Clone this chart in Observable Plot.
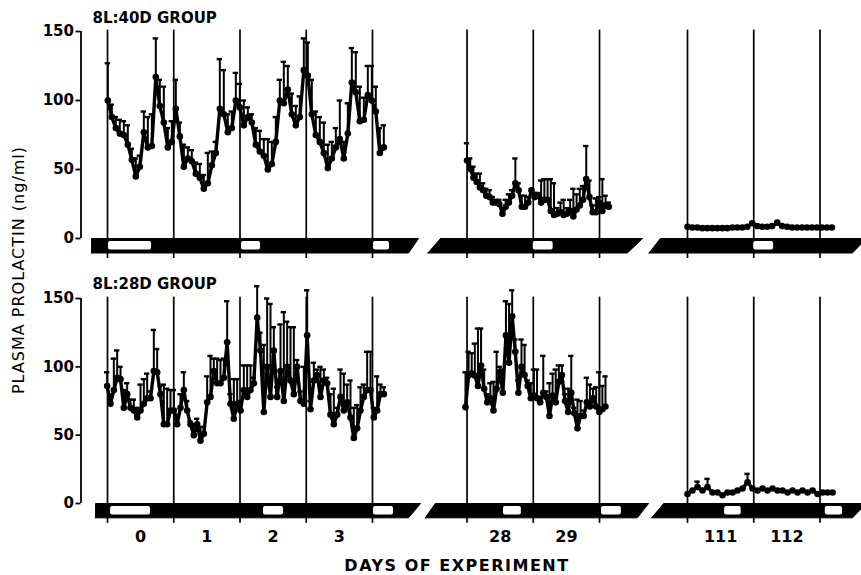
<!DOCTYPE html>
<html><head><meta charset="utf-8">
<script src="https://cdn.jsdelivr.net/npm/d3@7"></script>
<script src="https://cdn.jsdelivr.net/npm/@observablehq/plot@0.6"></script>
<style>
body{margin:0;background:#fff;}
#wrap{position:relative;width:861px;height:575px;font-family:"DejaVu Sans",sans-serif;color:#000;overflow:hidden;}
#top{position:absolute;left:0;top:0;}
#bottom{position:absolute;left:0;top:265px;}
.ylab{position:absolute;left:18px;top:270px;transform:translate(-50%,-50%) rotate(-90deg);white-space:nowrap;font-size:16px;letter-spacing:1px;}
.xlab{position:absolute;left:457px;top:565px;transform:translate(-50%,-50%);white-space:nowrap;font-size:16px;font-weight:bold;letter-spacing:1.5px;}
</style></head><body>
<div id="wrap"><div id="top"></div><div id="bottom"></div>
<div class="ylab">PLASMA PROLACTIN (ng/ml)</div>
<div class="xlab">DAYS OF EXPERIMENT</div></div>
<script>
// ---------- data ----------
const groupLabels = ["8L:40D GROUP", "8L:28D GROUP"];
const dayTicks = [0, 1, 2, 3, 28, 29, 111, 112];
const dayBoundaries = [-0.5, 0.5, 1.5, 2.5, 3.5, 27.5, 28.5, 29.5, 110.5, 111.5, 112.5];
const yTicks = [0, 50, 100, 150];

// sampling spans (days) of each segment
const span40 = [[-0.495, 3.671], [27.5, 29.64], [110.5, 112.68]];
const span28 = [[-0.505, 3.671], [27.477, 29.59], [110.5, 112.69]];

// 8L:40D group: mean and mean+SEM
const prl40a = [100,88,80,76,75,68,57,45,52,77,66,67,117,96,84,66,70,94,74,52,58,56,47,44,36,40,53,62,94,90,77,80,100,95,82,88,84,68,63,60,50,54,70,100,98,108,90,82,88,122,118,90,75,70,62,51,58,66,72,58,76,113,106,85,86,104,100,92,62,66];
const tip40a = [127,97,88,86,85,82,65,58,60,92,88,90,145,115,110,80,85,115,84,68,66,64,55,54,46,62,63,70,130,122,90,92,120,112,100,95,90,80,78,72,72,70,88,115,128,125,105,96,103,145,142,115,92,88,84,68,70,80,100,70,98,138,135,110,102,125,125,110,80,82];
const prl40b = [56.5,50.5,44,41,37,35,31,30,26,26,25,18,23,26,31,40,35,23,23,26,35,30,31,26,28,28,20,17,18,19,17,18,20,16,21,24,28,43,30,19,19,26,20,24,23];
const tip40b = [69,58,52,47,47,40,36,35,30,28,28,22,28,32,35,58,40,31,31,30,36,33,33,42,43,43,43,40,22,26,28,22,28,36,32,36,38,67,42,24,29,30,43,31,26];
const prl40c = [8.5,8,8,7.5,7.5,7.5,7.5,7.5,7.5,8,8,8,8.5,11,9,8.5,8.5,9,11.5,9,8.5,8,8,8,8,8,8,8,8,8];
const tip40c = [9,8.5,8.5,8,8,8,8,8,8,8.5,8.5,8.5,9,12,9.5,9,9,9.5,12.5,9.5,9,8.5,8.5,8.5,8.5,8.5,8.5,8.5,8.5,8.5];

// 8L:28D group: mean and mean+SEM
const prl28a = [86,73,83,92,91,70,80,70,68,63,68,73,77,77,97,96,80,58,58,68,68,58,70,83,68,58,50,58,46,51,74,78,97,88,88,92,118,73,62,73,68,83,78,83,88,136,112,67,100,78,112,78,97,75,100,90,80,100,75,73,123,69,90,94,78,90,88,65,58,65,78,68,74,63,48,55,68,78,83,83,63,68,80,80];
const tip28a = [96,80,106,112,100,83,88,76,76,70,87,91,95,82,127,113,86,87,84,83,83,65,80,96,75,60,58,62,56,56,93,108,106,106,105,106,148,80,91,91,75,101,101,101,92,159,125,116,150,146,129,85,131,140,133,129,129,105,82,100,156,75,103,98,100,98,92,80,84,70,98,95,87,90,70,72,85,87,111,111,70,93,87,85];
const prl28b = [70.5,93.6,95,93.6,86,101,84,74,77,68,84,96,81,123,103,137,111,81,100,94,86,77,79,77,74,81,78,64,79,74,89,94,75,67,81,66,55,64,64,74,71,77,71,67,69,71];
const tip28b = [96,111,110,117,128,128,98,80,88,89,111,100,98,148,146,156,120,90,120,116,90,88,98,98,78,108,82,88,95,98,101,101,80,84,108,70,76,75,68,92,87,84,85,96,86,93];
const prl28c = [7,9.5,12,9.5,12,8,8,6,8,8,9.5,11,15.6,11,9.5,11,9.5,11,9.5,9.5,8,9.5,8,9.5,8,9.5,7,8,8,8];
const tip28c = [8,10.5,16,10.5,18,9,9,7,9,9,10.5,12,21.7,12,10.5,12,10.5,12,10.5,10.5,9,10.5,9,10.5,9,10.5,8,9,9,9];

// light periods (white) within the dark bar, in days
const lights40 = [[-0.485, 0.165], [1.523, 1.81], [3.515, 3.757], [28.5, 28.8], [111.5, 111.8]];
const lights28 = [[-0.454, 0.15], [1.855, 2.157], [3.515, 3.817], [28.05, 28.32], [29.53, 29.83], [111.06, 111.31], [112.58, 112.84]];

// light/dark bar outline per segment: [bottom-left, top-left, top-right, bottom-right] in days
const bar40 = [[-0.741, -0.741, 4.195, 4.044], [26.91, 27.10, 30.15, 29.92], [109.92, 110.09, 113.2, 112.99]];
const bar28 = [[-0.68, -0.68, 4.225, 4.044], [26.87, 27.02, 30.24, 30.07], [109.96, 110.14, 113.2, 112.99]];

// ---------- broken time axis ----------
const segBreaks = [20, 60];
const segOffsets = [0, 22.573, 102.245];
const xDomain = [-0.9, 10.88];
function segOf(day) { return day < segBreaks[0] ? 0 : day < segBreaks[1] ? 1 : 2; }
function toU(day) { return day - segOffsets[segOf(day)]; }

function build(spans, means, tips) {
  const out = [];
  means.forEach((m, s) => {
    const [a, b] = spans[s];
    const n = m.length;
    m.forEach((v, i) => {
      const day = a + (b - a) * i / (n - 1);
      out.push({seg: s, day, u: toU(day), mean: v, tip: tips[s][i]});
    });
  });
  return out;
}

const data40 = build(span40, [prl40a, prl40b, prl40c], [tip40a, tip40b, tip40c]);
const data28 = build(span28, [prl28a, prl28b, prl28c], [tip28a, tip28b, tip28c]);

const uTicks = dayTicks.map(toU);
const tickLabel = new Map(uTicks.map((u, i) => [u, String(dayTicks[i])]));

const BAR_BOTTOM = -10.5;

function panel({label, data, lights, bars, height, yRange, marginTop, marginBottom, showX}) {
  const barPts = bars.flatMap((b, s) =>
    [[b[0], BAR_BOTTOM], [b[1], 0], [b[2], 0], [b[3], BAR_BOTTOM], [b[0], BAR_BOTTOM]]
      .map(([d, y]) => ({seg: s, u: toU(d), y})));
  const capped = data.filter(d => d.tip - d.mean > 1.5);
  const marks = [
    Plot.ruleX(dayBoundaries, {x: toU, y1: -14.5, y2: 151, stroke: "#000", strokeWidth: 1.7}),
    Plot.line(barPts, {x: "u", y: "y", z: "seg", fill: "#000", stroke: "#000", strokeWidth: 1}),
    Plot.rect(lights, {x1: d => toU(d[0]), x2: d => toU(d[1]), y1: -2.2, y2: -8.4, fill: "#fff", rx: 2}),
    Plot.ruleX(capped, {x: "u", y1: "mean", y2: "tip", stroke: "#000", strokeWidth: 2}),
    Plot.ruleY(capped, {y: "tip", x1: d => d.u - 0.04, x2: d => d.u + 0.04, stroke: "#000", strokeWidth: 2.4}),
    Plot.line(data, {x: "u", y: "mean", z: "seg", stroke: "#000", strokeWidth: 3.4}),
    Plot.dot(data, {x: "u", y: "mean", r: 3.3, fill: "#000", stroke: null}),
    Plot.ruleX([xDomain[0]], {y1: yTicks[0], y2: yTicks[yTicks.length - 1], stroke: "#000", strokeWidth: 1.8}),
    Plot.axisY({ticks: yTicks, tickSize: 5, tickPadding: 2, strokeWidth: 1.8, label: null, fontSize: 15, fontWeight: "bold"}),
    Plot.text([label], {frameAnchor: "top-left", dx: 11.5, lineAnchor: "top", textAnchor: "start", fontSize: 15, fontWeight: "bold"})
  ];
  if (showX) {
    marks.push(Plot.axisX({ticks: uTicks, tickSize: 0, tickPadding: 2, tickFormat: u => tickLabel.get(u), label: null, fontSize: 16, fontWeight: "bold"}));
  }
  return Plot.plot({
    width: 861, height,
    marginLeft: 80.5, marginRight: 0.1, marginTop, marginBottom,
    x: {domain: xDomain, range: [80.5, 860.9], axis: showX ? undefined : null},
    y: {domain: [0, 150], range: yRange, axis: null, label: null},
    style: {fontFamily: "DejaVu Sans", fontSize: "15px", background: "white", color: "black", overflow: "visible"},
    marks
  });
}

document.getElementById("top").append(panel({
  label: groupLabels[0], data: data40, lights: lights40, bars: bar40,
  height: 265, yRange: [238, 31], marginTop: 12, marginBottom: 5, showX: false
}));
document.getElementById("bottom").append(panel({
  label: groupLabels[1], data: data28, lights: lights28, bars: bar28,
  height: 310, yRange: [238, 33], marginTop: 12.5, marginBottom: 47, showX: true
}));
</script>
</body></html>
